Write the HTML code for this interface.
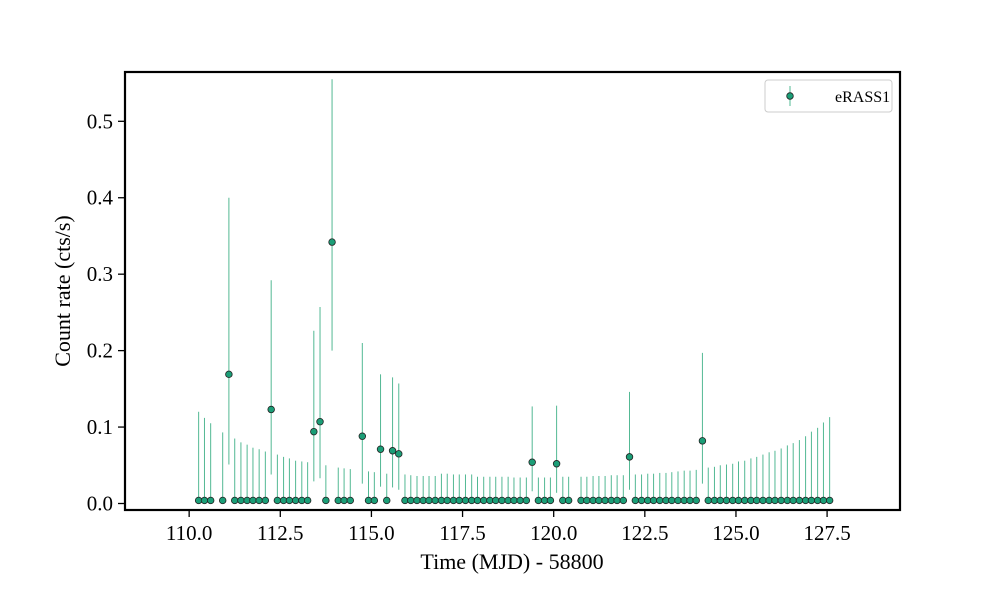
<!DOCTYPE html>
<html><head><meta charset="utf-8"><style>
html,body{margin:0;padding:0;background:#fff;}
svg{display:block;font-family:"Liberation Serif",serif;}
</style></head><body>
<svg id="chart" width="1000" height="600" viewBox="0 0 1000 600" xmlns="http://www.w3.org/2000/svg">
<rect width="1000" height="600" fill="#fff"/>
<g id="bars"></g>
<g id="points"></g>
<g id="xticks"></g>
<g id="yticks"></g>
<rect x="125" y="72" width="775" height="438" fill="none" stroke="#000" stroke-width="2.2"/>
<text x="512" y="569" font-size="22" text-anchor="middle">Time (MJD) - 58800</text>
<text transform="translate(70,291) rotate(-90)" font-size="22" text-anchor="middle">Count rate (cts/s)</text>
<g>
<rect x="765" y="80" width="127" height="32" rx="3" fill="#fff" stroke="#ccc" stroke-width="1"/>
<line x1="790" y1="86" x2="790" y2="106" stroke="#52b893" stroke-width="1"/>
<circle cx="790" cy="96" r="3.3" fill="#1b9e77" stroke="#222" stroke-width="0.8"/>
<text x="835" y="102" font-size="16">eRASS1</text>
</g>
</svg>
<script>
const times=[110.26,110.42,110.59,110.92,111.09,111.25,111.42,111.59,111.75,111.92,112.09,112.25,112.42,112.59,112.75,112.92,113.09,113.25,113.42,113.59,113.75,113.92,114.09,114.25,114.42,
114.75,114.92,115.08,115.25,115.42,115.58,115.75,115.92,116.08,116.25,116.42,116.58,116.75,116.92,117.08,117.25,117.41,117.58,117.75,117.91,118.08,118.25,118.41,118.58,118.75,118.91,119.08,119.25,119.41,119.58,119.75,119.91,120.08,120.25,120.41,
120.75,120.91,121.08,121.24,121.41,121.58,121.74,121.91,122.08,122.24,122.41,122.58,122.74,122.91,123.08,123.24,123.41,123.58,123.74,123.91,124.08,124.24,124.41,124.57,124.74,124.91,125.07,125.24,125.41,125.57,125.74,125.91,126.07,126.24,126.41,126.57,126.74,126.91,127.07,127.24,127.40,127.57];
const rates=[0.004,0.004,0.004,0.004,0.169,0.004,0.004,0.004,0.004,0.004,0.004,0.123,0.004,0.004,0.004,0.004,0.004,0.004,0.094,0.107,0.004,0.342,0.004,0.004,0.004,
0.088,0.004,0.004,0.071,0.004,0.069,0.065,0.004,0.004,0.004,0.004,0.004,0.004,0.004,0.004,0.004,0.004,0.004,0.004,0.004,0.004,0.004,0.004,0.004,0.004,0.004,0.004,0.004,0.054,0.004,0.004,0.004,0.052,0.004,0.004,
0.004,0.004,0.004,0.004,0.004,0.004,0.004,0.004,0.061,0.004,0.004,0.004,0.004,0.004,0.004,0.004,0.004,0.004,0.004,0.004,0.082,0.004,0.004,0.004,0.004,0.004,0.004,0.004,0.004,0.004,0.004,0.004,0.004,0.004,0.004,0.004,0.004,0.004,0.004,0.004,0.004,0.004];
const errLow=[0,0,0,0,0.051,0,0,0,0,0,0,0.038,0,0,0,0,0,0,0.029,0.033,0,0.200,0,0,0,
0.026,0,0,0.022,0,0.021,0.018,0,0,0,0,0,0,0,0,0,0,0,0,0,0,0,0,0,0,0,0,0,0.016,0,0,0,0.014,0,0,
0,0,0,0,0,0,0,0,0.018,0,0,0,0,0,0,0,0,0,0,0,0.026,0,0,0,0,0,0,0,0,0,0,0,0,0,0,0,0,0,0,0,0,0];
const errHigh=[0.120,0.112,0.105,0.093,0.400,0.085,0.080,0.077,0.073,0.071,0.068,0.292,0.064,0.061,0.059,0.056,0.055,0.054,0.226,0.257,0.050,0.555,0.047,0.046,0.045,
0.210,0.042,0.041,0.169,0.039,0.165,0.157,0.038,0.037,0.036,0.036,0.036,0.036,0.039,0.039,0.038,0.038,0.038,0.038,0.035,0.035,0.035,0.035,0.035,0.035,0.034,0.034,0.034,0.127,0.034,0.034,0.034,0.128,0.035,0.035,
0.035,0.035,0.036,0.036,0.036,0.037,0.037,0.037,0.146,0.038,0.038,0.039,0.039,0.040,0.040,0.041,0.042,0.043,0.043,0.044,0.197,0.047,0.048,0.050,0.051,0.052,0.055,0.056,0.059,0.061,0.064,0.067,0.069,0.072,0.076,0.079,0.083,0.088,0.094,0.099,0.106,0.113];
const xTickLabels=["110.0","112.5","115.0","117.5","120.0","122.5","125.0","127.5"];
const yTickLabels=["0.0","0.1","0.2","0.3","0.4","0.5"];

const NS="http://www.w3.org/2000/svg";
const X0=125,X1=900,Y0=510,Y1=72;
const xMin=108.24,xMax=129.5,yMin=-0.0085,yMax=0.5645;
function xs(v){return X0+(v-xMin)/(xMax-xMin)*(X1-X0);}
function ys(v){return Y0-(v-yMin)/(yMax-yMin)*(Y0-Y1);}
function mk(tag,attrs,parent){const e=document.createElementNS(NS,tag);for(const k in attrs)e.setAttribute(k,attrs[k]);parent.appendChild(e);return e;}

const gb=document.getElementById('bars'),gp=document.getElementById('points');
times.forEach((t,i)=>{
  const l=mk('line',{x1:xs(t),x2:xs(t),y1:ys(errLow[i]),y2:ys(errHigh[i]),stroke:'#52b893','stroke-width':1},gb);
  
  
  const c=mk('circle',{cx:xs(t),cy:ys(rates[i]),r:3.3,fill:'#1b9e77',stroke:'#222','stroke-width':0.8},gp);
  
  
});
const gx=document.getElementById('xticks');
xTickLabels.forEach(s=>{
  const v=parseFloat(s),x=xs(v);
  const tk=mk('line',{x1:x,x2:x,y1:Y0,y2:Y0+7,stroke:'#000','stroke-width':1.3},gx);
  
  
  const tx=mk('text',{x:x,y:Y0+30,'font-size':21,'text-anchor':'middle'},gx);
  tx.textContent=s;
  
  
});
const gy=document.getElementById('yticks');
yTickLabels.forEach(s=>{
  const v=parseFloat(s),y=ys(v);
  const tk=mk('line',{x1:X0-7,x2:X0,y1:y,y2:y,stroke:'#000','stroke-width':1.3},gy);
  
  
  const tx=mk('text',{x:X0-12,y:y+7,'font-size':21,'text-anchor':'end'},gy);
  tx.textContent=s;
  
  
});
</script>
</body></html>
